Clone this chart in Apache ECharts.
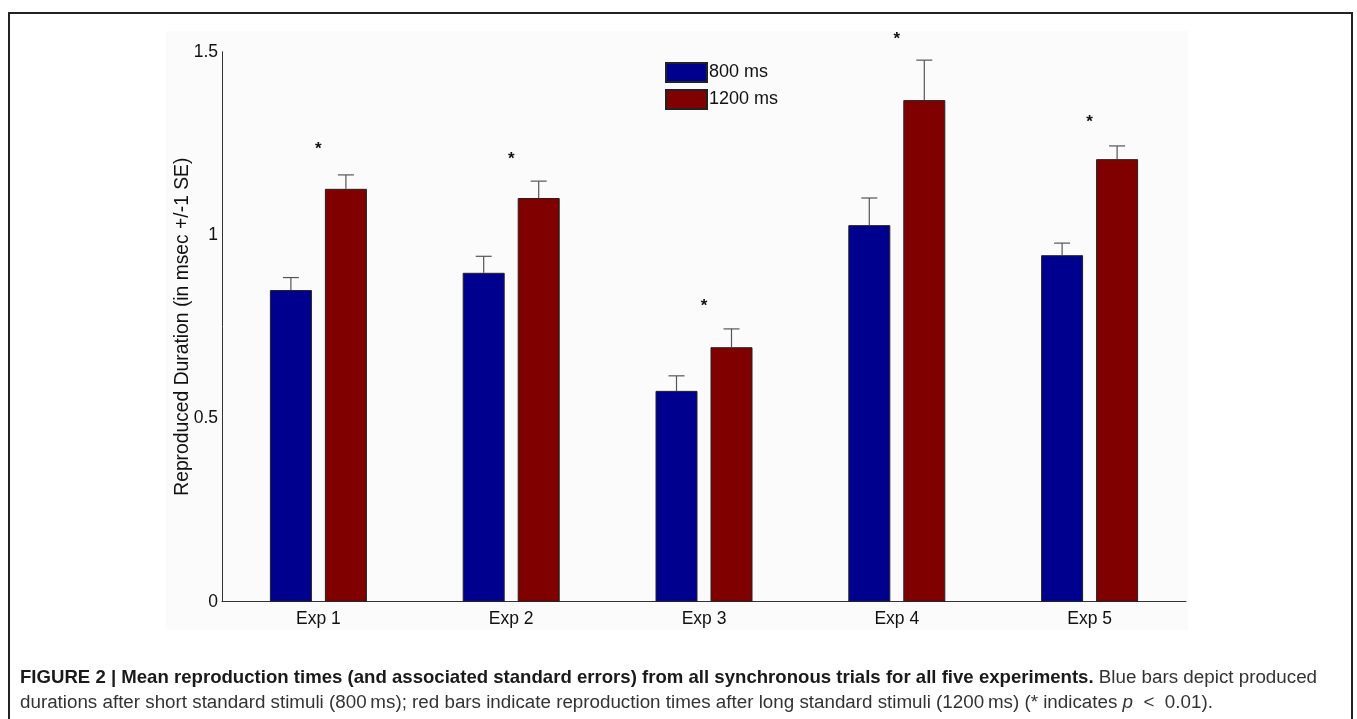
<!DOCTYPE html>
<html>
<head>
<meta charset="utf-8">
<script src="https://cdn.jsdelivr.net/npm/echarts@6/dist/echarts.min.js"></script>
<style>html,body{margin:0;padding:0;background:#fff;}#c{width:1357px;height:719px;}</style>
</head>
<body>
<div id="c"></div>
<script>
const categories = ['Exp 1', 'Exp 2', 'Exp 3', 'Exp 4', 'Exp 5'];
const shortMeans = [0.850, 0.897, 0.575, 1.027, 0.945];
const shortSE = [0.034, 0.045, 0.041, 0.074, 0.033];
const longMeans = [1.126, 1.101, 0.694, 1.368, 1.207];
const longSE = [0.038, 0.046, 0.050, 0.109, 0.036];
const starLevels = [1.243, 1.214, 0.815, 1.541, 1.316];
const yTicks = [0, 0.5, 1, 1.5];
const seriesNames = ['800 ms', '1200 ms'];

const FONT = '"Liberation Sans", Arial, Helvetica, sans-serif';
const BAR_W = 42, BAR_GAP = 13;
const OFF = (BAR_W + BAR_GAP) / 2;

function errRender(sign, means, ses) {
  return function (params, api) {
    const i = api.value(0);
    const base = api.coord([i, means[i]]);
    const top = api.coord([i, means[i] + ses[i]]);
    const x = base[0] + sign * OFF;
    const cap = 8;
    return {
      type: 'group',
      children: [
        { type: 'line', shape: { x1: x, y1: base[1], x2: x, y2: top[1] }, style: { stroke: '#555', lineWidth: 1.2 } },
        { type: 'line', shape: { x1: x - cap, y1: top[1], x2: x + cap, y2: top[1] }, style: { stroke: '#555', lineWidth: 1.2 } }
      ]
    };
  };
}

const chart = echarts.init(document.getElementById('c'));
chart.setOption({
  backgroundColor: '#ffffff',
  animation: false,
  grid: { left: 222, right: 171, top: 51.7, bottom: 117.3, containLabel: false },
  legend: {
    data: seriesNames,
    orient: 'vertical',
    left: 665, top: 62, padding: 0,
    itemWidth: 41, itemHeight: 19, itemGap: 6,
    icon: 'rect',
    textStyle: { fontFamily: FONT, fontSize: 18, color: '#111', padding: [0, 0, 0, -3] }
  },
  xAxis: {
    type: 'category',
    data: categories,
    axisLine: { lineStyle: { color: '#333', width: 1 } },
    axisTick: { show: false },
    axisLabel: { fontFamily: FONT, fontSize: 17.5, color: '#111', margin: 8 },
    splitLine: { show: false }
  },
  yAxis: {
    type: 'value',
    min: 0, max: 1.5, interval: 0.5,
    name: 'Reproduced Duration (in msec +/-1 SE)',
    nameLocation: 'middle',
    nameGap: 30,
    nameMoveOverlap: false,
    nameTextStyle: { fontFamily: FONT, fontSize: 19.3, color: '#111' },
    axisLine: { show: true, lineStyle: { color: '#333', width: 1 } },
    axisTick: { show: false },
    splitLine: { show: false },
    axisLabel: {
      fontFamily: FONT, fontSize: 17.5, color: '#111', margin: 4,
      formatter: function (v) { return yTicks.indexOf(v) >= 0 ? String(v) : ''; }
    }
  },
  series: [
    {
      name: seriesNames[0], type: 'bar', data: shortMeans,
      barWidth: BAR_W, barGap: (BAR_GAP / BAR_W * 100) + '%',
      itemStyle: { color: '#00008f', borderColor: '#222', borderWidth: 1 }
    },
    {
      name: seriesNames[1], type: 'bar', data: longMeans,
      barWidth: BAR_W,
      itemStyle: { color: '#800000', borderColor: '#222', borderWidth: 1 }
    },
    {
      type: 'custom', data: categories.map((c, i) => [i]),
      renderItem: errRender(-1, shortMeans, shortSE), z: 5, silent: true
    },
    {
      type: 'custom', data: categories.map((c, i) => [i]),
      renderItem: errRender(1, longMeans, longSE), z: 5, silent: true
    },
    {
      type: 'custom', data: categories.map((c, i) => [i, starLevels[i]]), clip: false,
      renderItem: function (params, api) {
        const p = api.coord([api.value(0), api.value(1)]);
        return { type: 'text', x: p[0], y: p[1] + 3, style: { text: '*', fontFamily: FONT, fontSize: 17, fontWeight: 'bold', fill: '#111', align: 'center', verticalAlign: 'middle' } };
      },
      silent: true
    }
  ],
  graphic: [
    { type: 'rect', z: -10, shape: { x: 166, y: 31, width: 1022, height: 599 }, style: { fill: '#fbfbfb' } },
    { type: 'rect', z: 100, shape: { x: 9, y: 13, width: 1343, height: 730 }, style: { fill: 'none', stroke: '#222', lineWidth: 2 } },
    {
      type: 'text', z: 100, left: 20, top: 668,
      style: {
        text: '{b|FIGURE 2 | Mean reproduction times (and associated standard errors) from all synchronous trials for all five experiments.}{r| Blue bars depict produced}\n{r|durations after short standard stimuli (800\u2009ms); red bars indicate reproduction times after long standard stimuli (1200\u2009ms) (* indicates }{i|p}{r|  <  0.01).}',
        rich: {
          b: { fontFamily: FONT, fontSize: 18.6, fontWeight: 'bold', fill: '#1a1a1a', lineHeight: 25 },
          r: { fontFamily: FONT, fontSize: 18.8, fill: '#333', lineHeight: 25 },
          i: { fontFamily: FONT, fontSize: 18.8, fontStyle: 'italic', fill: '#333', lineHeight: 25 }
        }
      }
    }
  ]
});
</script>
</body>
</html>
